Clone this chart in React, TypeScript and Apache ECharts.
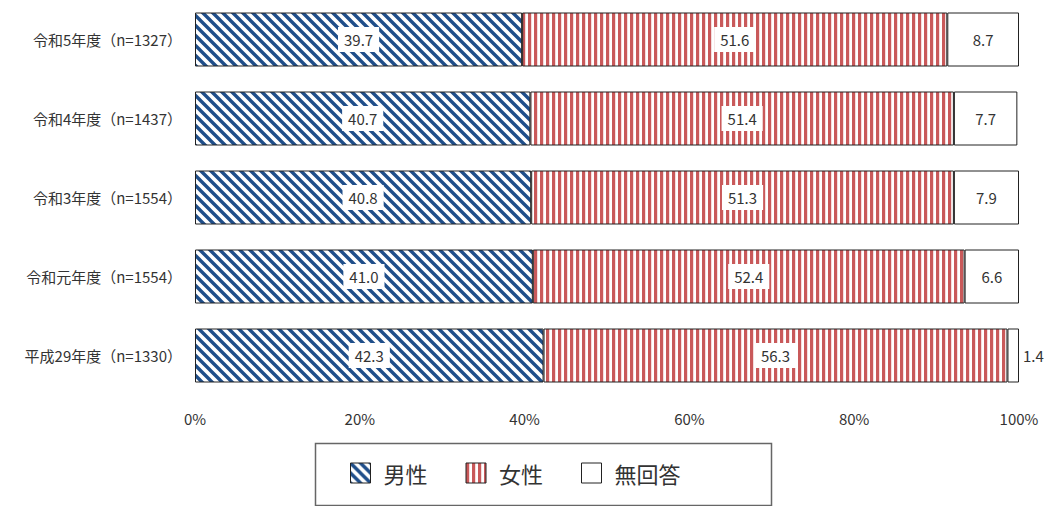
import React, { useEffect, useRef } from 'react';
import * as echarts from 'echarts';

const categories = [
  '令和5年度（n=1327）',
  '令和4年度（n=1437）',
  '令和3年度（n=1554）',
  '令和元年度（n=1554）',
  '平成29年度（n=1330）',
];
const male = [39.7, 40.7, 40.8, 41.0, 42.3];
const female = [51.6, 51.4, 51.3, 52.4, 56.3];
const noAnswer = [8.7, 7.7, 7.9, 6.6, 1.4];
const seriesNames = ['男性', '女性', '無回答'];

const FONT = '"Noto Sans CJK JP", "Noto Sans", sans-serif';

const blueTile =
  "data:image/svg+xml;utf8," +
  encodeURIComponent(
    "<svg xmlns='http://www.w3.org/2000/svg' width='10' height='10'><rect width='10' height='10' fill='#ffffff'/><path d='M-5,-5 L15,15 M-5,5 L5,15 M5,-5 L15,5' stroke='#1f4e8a' stroke-width='3.4'/></svg>"
  );
const redTile =
  "data:image/svg+xml;utf8," +
  encodeURIComponent(
    "<svg xmlns='http://www.w3.org/2000/svg' width='6' height='6'><rect width='6' height='6' fill='#ffffff'/><rect x='0' y='0' width='3.2' height='6' fill='#c9595a'/></svg>"
  );

export default function App() {
  const ref = useRef<HTMLDivElement>(null);
  useEffect(() => {
    if (!ref.current) return;
    const chart = echarts.init(ref.current, null, { renderer: 'svg' });
    const fills: any[] = [
      { image: blueTile, repeat: 'repeat', imageWidth: 10, imageHeight: 10 },
      { image: redTile, repeat: 'repeat', imageWidth: 6, imageHeight: 6 },
      '#ffffff',
    ];
    const datasets = [male, female, noAnswer];
    const labelBase = {
      show: true,
      position: 'inside',
      color: '#333',
      fontSize: 15,
      fontFamily: FONT,
      formatter: (p: any) => Number(p.value).toFixed(1),
    };
    const series = datasets.map((arr, i) => ({
      name: seriesNames[i],
      type: 'bar',
      stack: 'total',
      barWidth: 54,
      itemStyle: { color: fills[i], borderColor: '#222', borderWidth: 1 },
      label:
        i < 2
          ? { ...labelBase, backgroundColor: '#ffffff', padding: [5, 6] }
          : { ...labelBase },
      data: arr.map((v) =>
        i === 2 && v < 3 ? { value: v, label: { position: 'right', distance: 4 } } : v
      ),
    }));

    chart.setOption({
      animation: false,
      textStyle: { fontFamily: FONT },
      grid: { left: 195, right: 30, top: 0, height: 395, containLabel: false },
      xAxis: {
        type: 'value',
        min: 0,
        max: 100,
        interval: 20,
        axisLine: { show: false },
        axisTick: { show: false },
        splitLine: { show: false },
        axisLabel: {
          formatter: '{value}%',
          color: '#333',
          fontSize: 15,
          margin: 16,
          fontFamily: FONT,
        },
      },
      yAxis: {
        type: 'category',
        inverse: true,
        data: categories,
        axisLine: { show: false },
        axisTick: { show: false },
        axisLabel: { color: '#333', fontSize: 15, margin: 13, fontFamily: FONT },
      },
      legend: {
        left: 350,
        top: 462,
        padding: 0,
        itemWidth: 20,
        itemHeight: 20,
        itemGap: 38,
        icon: 'rect',
        itemStyle: { borderColor: '#222', borderWidth: 1 },
        textStyle: { fontSize: 22, color: '#333', fontFamily: FONT, padding: [0, 0, 0, 8] },
        data: seriesNames,
      },
      graphic: [
        {
          type: 'rect',
          left: 313,
          top: 441,
          shape: { width: 456, height: 62 },
          style: { fill: 'none', stroke: '#666', lineWidth: 1.5 },
          silent: true,
          z: -1,
        },
      ],
      series,
    });
    return () => chart.dispose();
  }, []);
  return (
    <div
      ref={ref}
      style={{ position: 'fixed', left: 0, top: 0, width: 1049, height: 506, background: '#fff' }}
    />
  );
}
